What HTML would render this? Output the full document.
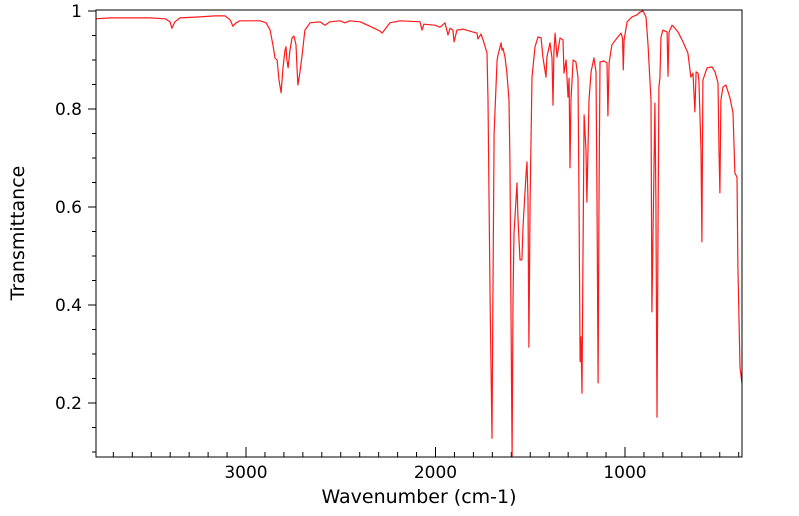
<!DOCTYPE html>
<html><head><meta charset="utf-8"><style>
html,body{margin:0;padding:0;background:#fff;}
svg{display:block;font-family:"DejaVu Sans","Liberation Sans",sans-serif;}
</style></head><body>
<svg id="chart" width="799" height="516" viewBox="0 0 799 516">
<defs><clipPath id="plotclip"><rect x="96" y="10" width="646" height="447"/></clipPath></defs>
<rect x="96" y="10" width="646" height="447" fill="#fff" stroke="none"/>
<g id="ticks"></g>
<path id="spectrum" clip-path="url(#plotclip)" fill="none" stroke="#ff1a1a" stroke-width="1.2" stroke-linejoin="round"/>
<rect x="96" y="10" width="646" height="447" fill="none" stroke="#000" stroke-width="1"/>
<text x="419" y="503" text-anchor="middle" font-size="19">Wavenumber (cm-1)</text>
<text transform="translate(24,233) rotate(-90)" text-anchor="middle" font-size="19">Transmittance</text>
</svg>
<script>
const wavenumbers=[3792,3718,3507,3427,3401,3391,3375,3348,3243,3164,3111,3084,3069,3053,3032,2926,2894,2873,2858,2847,2836,2826,2815,2805,2794,2789,2784,2778,2768,2757,2747,2736,2731,2726,2715,2704,2689,2662,2610,2583,2557,2504,2478,2451,2398,2346,2293,2282,2240,2187,2082,2071,2061,2003,1976,1950,1934,1923,1908,1902,1887,1855,1802,1781,1776,1760,1749,1728,1723,1712,1702,1697,1691,1675,1670,1654,1649,1644,1633,1623,1612,1607,1602,1596,1591,1586,1570,1565,1554,1544,1538,1522,1517,1512,1507,1501,1491,1475,1459,1443,1433,1417,1412,1396,1385,1380,1375,1369,1359,1343,1327,1322,1311,1301,1295,1290,1285,1274,1259,1248,1243,1237,1232,1227,1222,1216,1206,1201,1190,1179,1164,1153,1148,1142,1137,1132,1111,1095,1090,1084,1069,1042,1021,1013,1009,1005,989,963,937,921,905,889,879,863,858,847,842,837,831,826,821,816,810,800,778,773,768,752,736,720,694,668,652,641,631,625,615,610,599,594,589,567,541,525,509,504,499,494,483,467,446,430,420,409,404,393,383];
const transmittance=[.984,.986,.986,.984,.978,.965,.978,.986,.988,.990,.990,.982,.969,.976,.980,.980,.976,.961,.931,.904,.900,.859,.833,.884,.920,.927,.900,.884,.920,.945,.949,.931,.884,.849,.876,.910,.961,.976,.978,.971,.978,.980,.976,.980,.978,.969,.959,.955,.976,.980,.978,.961,.973,.971,.967,.976,.951,.965,.961,.937,.961,.963,.957,.955,.943,.953,.941,.914,.818,.410,.128,.410,.751,.900,.910,.935,.920,.924,.906,.873,.818,.682,.410,.089,.410,.547,.649,.580,.492,.492,.559,.669,.692,.614,.314,.614,.865,.927,.947,.945,.906,.865,.906,.935,.904,.808,.914,.955,.906,.945,.941,.873,.900,.824,.863,.680,.818,.900,.896,.865,.614,.284,.335,.220,.478,.788,.716,.610,.818,.876,.904,.876,.614,.241,.614,.896,.898,.894,.786,.894,.931,.945,.955,.945,.880,.941,.978,.988,.992,.998,1.0,.988,.935,.818,.386,.682,.812,.614,.171,.547,.845,.863,.947,.961,.957,.867,.957,.971,.965,.957,.937,.914,.865,.873,.794,.876,.873,.859,.716,.529,.859,.884,.886,.876,.853,.716,.629,.818,.845,.849,.822,.792,.669,.661,.478,.273,.241];
const xMajorTicks=[3000,2000,1000];
const xMajorLabels=["3000","2000","1000"];
const yMajorTicks=[1,0.8,0.6,0.4,0.2];
const yMajorLabels=["1","0.8","0.6","0.4","0.2"];

const NS="http://www.w3.org/2000/svg";
function xPx(wn){return 246+(3000-wn)*0.1895;}
function yPx(t){return 11+(1-t)*490;}
const tg=document.getElementById('ticks');
function line(x1,y1,x2,y2,name){
  const l=document.createElementNS(NS,'line');
  l.setAttribute('x1',x1);l.setAttribute('y1',y1);l.setAttribute('x2',x2);l.setAttribute('y2',y2);
  l.setAttribute('stroke','#000');l.setAttribute('stroke-width','1');
  
  
  tg.appendChild(l);
}
function label(x,y,txt,anchor,name){
  const t=document.createElementNS(NS,'text');
  t.setAttribute('x',x);t.setAttribute('y',y);t.setAttribute('text-anchor',anchor);
  t.setAttribute('font-size','17');t.textContent=txt;
  
  
  tg.appendChild(t);
}
for(let w=400;w<=3700;w+=100){
  const x=xPx(w);
  if(x<96||x>742)continue;
  const major=xMajorTicks.indexOf(w)>=0;
  line(x,457,x,major?447:452,'x-tick');
}
xMajorTicks.forEach((w,i)=>label(xPx(w),478,xMajorLabels[i],'middle','x-tick-label'));
for(let k=2;k<=20;k++){
  const v=k*0.05;const y=yPx(v);
  if(y<10||y>457)continue;
  const major=Math.abs(v*5-Math.round(v*5))<1e-6;
  line(major?88:92,y,96,y,'y-tick');
}
yMajorTicks.forEach((v,i)=>label(82,yPx(v)+6,yMajorLabels[i],'end','y-tick-label'));
let d='';
for(let i=0;i<wavenumbers.length;i++){
  d+=(i?'L':'M')+xPx(wavenumbers[i]).toFixed(1)+' '+yPx(transmittance[i]).toFixed(1);
}
document.getElementById('spectrum').setAttribute('d',d);
</script>
</body></html>
